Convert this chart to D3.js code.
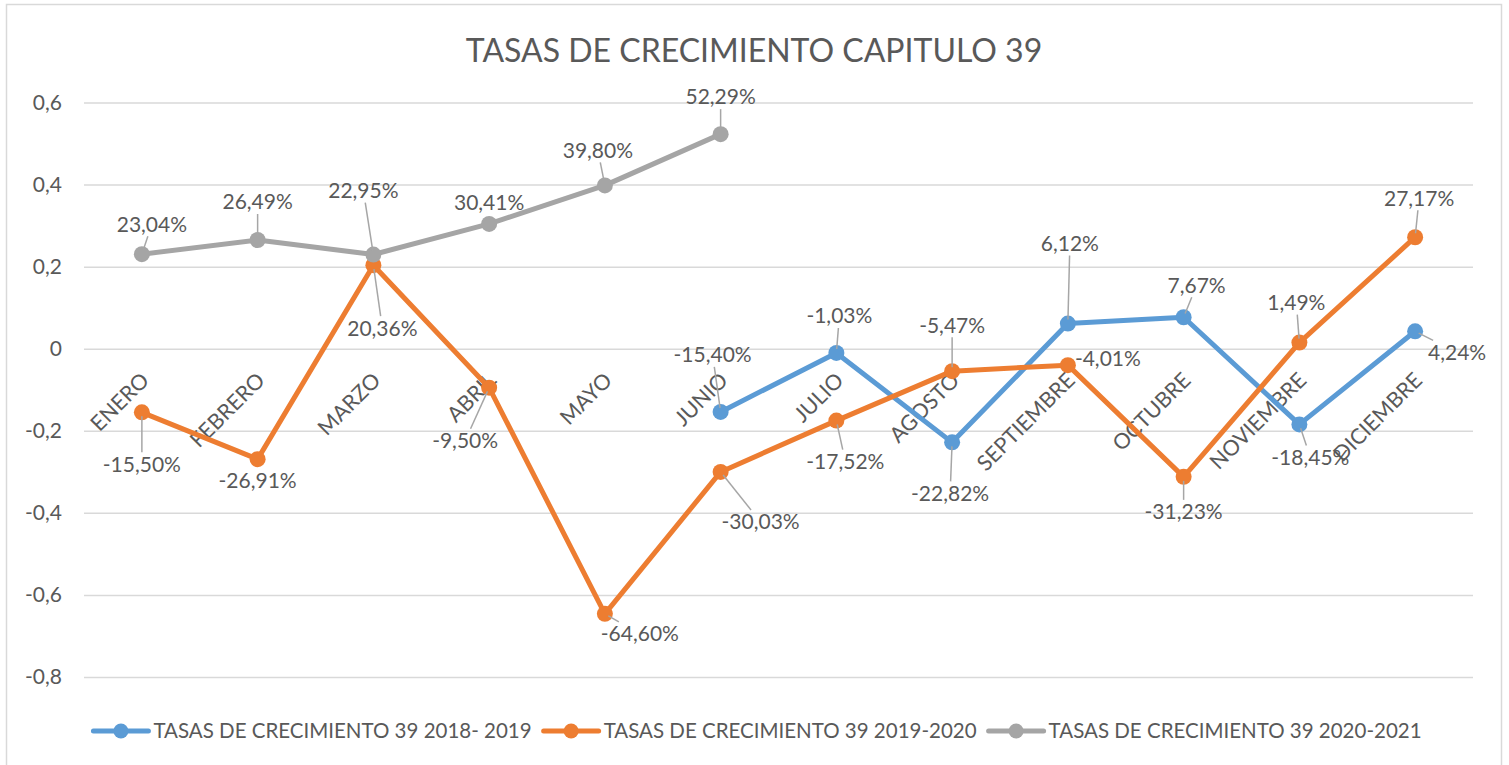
<!DOCTYPE html>
<html>
<head>
<meta charset="utf-8">
<script src="https://cdn.jsdelivr.net/npm/d3@7"></script>
<style>
  body { margin: 0; background: #fff; }
  text { font-family: Lato, "Open Sans", sans-serif; fill: #595959; }
</style>
</head>
<body>
<svg width="1509" height="765"></svg>
<script>
const months = ['ENERO', 'FEBRERO', 'MARZO', 'ABRIL', 'MAYO', 'JUNIO', 'JULIO',
  'AGOSTO', 'SEPTIEMBRE', 'OCTUBRE', 'NOVIEMBRE', 'DICIEMBRE'];
const yTicks = [-0.8, -0.6, -0.4, -0.2, 0, 0.2, 0.4, 0.6];

const seriesNames = ['TASAS DE CRECIMIENTO 39 2018- 2019', 'TASAS DE CRECIMIENTO 39 2019-2020',
  'TASAS DE CRECIMIENTO 39 2020-2021'];
const colors = ['#5B9BD5', '#ED7D31', '#A5A5A5'];

const rates1819 = [null, null, null, null, null, -0.1540, -0.0103, -0.2282, 0.0612, 0.0767, -0.1845, 0.0424];
const rates1920 = [-0.1550, -0.2691, 0.2036, -0.0950, -0.6460, -0.3003, -0.1752, -0.0547, -0.0401, -0.3123, 0.0149, 0.2717];
const rates2021 = [0.2304, 0.2649, 0.2295, 0.3041, 0.3980, 0.5229, null, null, null, null, null, null];

// where each data label sits, relative to its point [dx, dy]
const labelShift1819 = [null, null, null, null, null, [-8, -57], [3, -37], [-2, 51], [2, -80], [13, -32], [11, 33], [42, 21]];
const labelShift1920 = [[0, 52], [0, 22], [9, 63], [-24, 53], [35, 20], [40, 50], [9, 41], [0, -46], [40, -7], [0, 35], [-3, -40], [4, -39]];
const labelShift2021 = [[10, -30], [0, -38], [-10, -64], [0, -21], [-7, -35], [0, -37], null, null, null, null, null, null];

const series = [rates1819, rates1920, rates2021];
const shifts = [labelShift1819, labelShift1920, labelShift2021];

const locale = d3.formatLocale({decimal: ',', thousands: '.', grouping: [3], currency: ['', ''], minus: '-'});
const fmtPct = locale.format('.2%');
const fmtTick = d => d === 0 ? '0' : locale.format('.1f')(d);

const svg = d3.select('svg');
const plotLeft = 84, plotRight = 1473, plotTop = 102.5, plotBottom = 677;

const x = d3.scalePoint().domain(months).range([plotLeft, plotRight]).padding(0.5);
const y = d3.scaleLinear().domain([-0.8, 0.6]).range([plotBottom, plotTop]);

// chart border
svg.append('rect')
  .attr('x', 6.5).attr('y', 4.5).attr('width', 1495).attr('height', 770)
  .attr('fill', 'none').attr('stroke', '#D9D9D9').attr('stroke-width', 1.5);

// title
svg.append('text')
  .attr('x', 754).attr('y', 62)
  .attr('text-anchor', 'middle')
  .style('font-size', '32px')
  .text('TASAS DE CRECIMIENTO CAPITULO 39');

// grid + y labels
const yAxis = d3.axisLeft(y).tickValues(yTicks).tickSize(-(plotRight - plotLeft)).tickFormat(fmtTick).tickPadding(22);
const gy = svg.append('g').attr('transform', `translate(${plotLeft},0)`).call(yAxis);
gy.select('.domain').remove();
gy.selectAll('.tick line').attr('stroke', '#D9D9D9').attr('stroke-width', 1.5);
gy.selectAll('.tick text')
  .attr('fill', '#595959')
  .style('font-size', '21px')
  .style('font-family', 'Lato, sans-serif');

// category labels, rotated, sitting under the zero line
const xAxis = d3.axisBottom(x).tickSize(0).tickPadding(0);
const gx = svg.append('g').attr('transform', `translate(0,${y(0)})`).call(xAxis);
gx.select('.domain').remove();
gx.selectAll('.tick text')
  .attr('fill', '#595959')
  .style('font-size', '21.5px')
  .style('font-family', 'Lato, sans-serif')
  .attr('text-anchor', 'end')
  .attr('y', 0).attr('dy', 0)
  .attr('transform', 'translate(8,33) rotate(-45)');

// lines and markers
const line = d3.line()
  .defined(d => d.v !== null)
  .x(d => x(d.m))
  .y(d => y(d.v));

const lineLayer = svg.append('g');
const labelLayer = svg.append('g');

series.forEach((vals, si) => {
  const pts = vals.map((v, i) => ({m: months[i], v: v, shift: shifts[si][i]}));
  lineLayer.append('path')
    .datum(pts)
    .attr('fill', 'none')
    .attr('stroke', colors[si])
    .attr('stroke-width', 5)
    .attr('stroke-linejoin', 'round')
    .attr('d', line);
  lineLayer.selectAll(null)
    .data(pts.filter(d => d.v !== null))
    .enter().append('circle')
    .attr('cx', d => x(d.m)).attr('cy', d => y(d.v))
    .attr('r', 8)
    .attr('fill', colors[si]);

  pts.filter(d => d.v !== null).forEach(d => {
    const px = x(d.m), py = y(d.v);
    const lx = px + d.shift[0], ly = py + d.shift[1];
    const t = labelLayer.append('text')
      .attr('x', lx).attr('y', ly)
      .attr('text-anchor', 'middle')
      .attr('dy', '0.35em')
      .style('font-size', '21px')
      .text(fmtPct(d.v));
    // leader line from label box edge to point
    const hw = t.node().getComputedTextLength() / 2 + 2, hh = 12;
    const ddx = px - lx, ddy = py - ly;
    const k = Math.min(hw / Math.abs(ddx || 1e-6), hh / Math.abs(ddy || 1e-6));
    if (k >= 1) return;
    const sx = lx + ddx * k, sy = ly + ddy * k;
    const len = Math.hypot(px - sx, py - sy);
    if (len < 16) return;
    const ex = px - (px - sx) / len * 4, ey = py - (py - sy) / len * 4;
    labelLayer.insert('line', 'text')
      .attr('x1', sx).attr('y1', sy).attr('x2', ex).attr('y2', ey)
      .attr('stroke', '#A6A6A6').attr('stroke-width', 1.5);
  });
});

// legend
const legend = svg.append('g').attr('transform', 'translate(0,731)');
let cx = 0;
seriesNames.forEach((name, i) => {
  const g = legend.append('g').attr('transform', `translate(${cx},0)`);
  g.append('line').attr('x1', 0).attr('x2', 55).attr('y1', 0).attr('y2', 0)
    .attr('stroke', colors[i]).attr('stroke-width', 5).attr('stroke-linecap', 'round');
  g.append('circle').attr('cx', 27.5).attr('cy', 0).attr('r', 7.5).attr('fill', colors[i]);
  const t = g.append('text').attr('x', 60).attr('dy', '0.35em')
    .style('font-size', '20.5px').text(name);
  cx += 60 + t.node().getComputedTextLength() + 12;
});
const total = cx - 12;
legend.attr('transform', `translate(${757.5 - total / 2},731)`);
</script>
</body>
</html>
